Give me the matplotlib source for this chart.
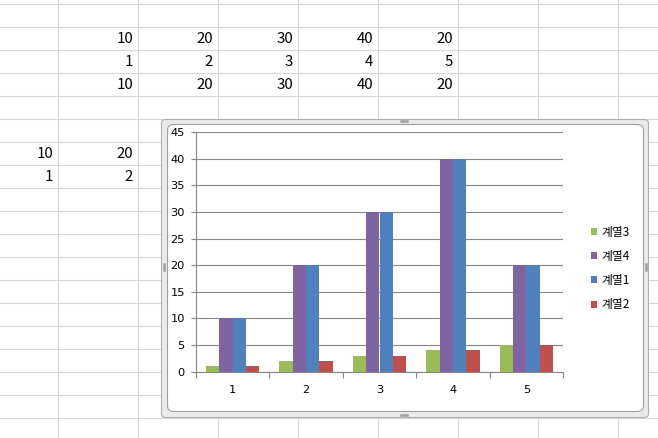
import matplotlib
matplotlib.use("Agg")
import matplotlib.pyplot as plt
from matplotlib.patches import FancyBboxPatch
import numpy as np

plt.rcParams['font.family'] = ['Noto Sans CJK KR', 'DejaVu Sans']

# chart data
categories = [1, 2, 3, 4, 5]
series_names = ["계열3", "계열4", "계열1", "계열2"]
series_3 = [1, 2, 3, 4, 5]
series_4 = [10, 20, 30, 40, 20]
series_1 = [10, 20, 30, 40, 20]
series_2 = [1, 2, 3, 4, 5]
series_colors = ["#9BBB59", "#8064A2", "#4F81BD", "#C0504D"]
y_ticks = [0, 5, 10, 15, 20, 25, 30, 35, 40, 45]

# worksheet cells (row index, first column index, values)
sheet_row1 = [10, 20, 30, 40, 20]
sheet_row2 = [1, 2, 3, 4, 5]
sheet_row3 = [10, 20, 30, 40, 20]
sheet_row6 = [10, 20]
sheet_row7 = [1, 2]

W, H = 658, 438
fig = plt.figure(figsize=(W / 100, H / 100), dpi=100)

# worksheet background, in pixel coordinates
bg = fig.add_axes([0, 0, 1, 1])
bg.set_xlim(0, W)
bg.set_ylim(H, 0)
bg.axis("off")

col_edges = [57 + 80 * i for i in range(8)]
row_edges = [3.5 + 23 * i for i in range(20)]
for x in col_edges:
    bg.axvline(x + 0.5, color="#d6d6d6", lw=0.8)
for y in row_edges:
    bg.axhline(y, color="#d6d6d6", lw=0.8)


def put_row(values, row, first_col):
    for i, v in enumerate(values):
        x = 57 + 80 * (first_col + i) - 4
        y = row_edges[row + 1] - 6.5
        bg.text(x, y, str(v), ha="right", va="baseline", fontsize=10.8, color="black")


put_row(sheet_row1, 1, 1)
put_row(sheet_row2, 2, 1)
put_row(sheet_row3, 3, 1)
put_row(sheet_row6, 6, 0)
put_row(sheet_row7, 7, 0)

# chart object frame
outer = FancyBboxPatch((161.5, 119.5), 487, 298, boxstyle="round,pad=0,rounding_size=4",
                       fc="#ebebeb", ec="#b0b0b0", lw=0.8, zorder=5)
inner = FancyBboxPatch((167.5, 124.5), 476, 287, boxstyle="round,pad=0,rounding_size=6",
                       fc="white", ec="#a0a0a0", lw=0.8, zorder=6)
bg.add_patch(outer)
bg.add_patch(inner)
dot = dict(ls="none", marker="s", ms=0.9, color="#a0a0a0", zorder=7)
bg.plot([401, 403, 405, 407], [121] * 4, **dot)
bg.plot([401, 403, 405, 407], [415] * 4, **dot)
bg.plot([164] * 4, [264, 266, 268, 270], **dot)
bg.plot([646] * 4, [264, 266, 268, 270], **dot)

# bar chart
ax = fig.add_axes([196 / W, 1 - 371.5 / H, (563 - 196) / W, (371.5 - 132.3) / H])
ax.set_facecolor("none")
x = np.arange(len(categories))
w = 1 / 5.5
all_series = [series_3, series_4, series_1, series_2]
for k, (vals, name, color) in enumerate(zip(all_series, series_names, series_colors)):
    ax.bar(x + (k - 1.5) * w, vals, w, color=color, label=name, zorder=3)

ax.set_xlim(-0.5, len(categories) - 0.5)
ax.set_ylim(0, 45)
ax.set_yticks(y_ticks)
ax.yaxis.grid(True, color="#868686", lw=0.8)
ax.set_axisbelow(True)
for s in ["top", "right"]:
    ax.spines[s].set_visible(False)
for s in ["left", "bottom"]:
    ax.spines[s].set_color("#868686")
    ax.spines[s].set_linewidth(0.8)

ax.set_xticks(np.arange(len(categories) + 1) - 0.5)
ax.set_xticklabels([])
ax.set_xticks(x, minor=True)
ax.set_xticklabels([str(c) for c in categories], minor=True)
ax.tick_params(axis="x", which="major", length=4, color="#868686", width=0.8)
ax.tick_params(axis="x", which="minor", length=0, pad=9.5)
ax.tick_params(axis="y", length=3.6, color="#868686", width=0.8, pad=4.5)
for lbl in ax.get_xticklabels(minor=True) + ax.get_yticklabels():
    lbl.set_fontfamily("DejaVu Sans")
    lbl.set_fontsize(8.2)

ax.legend(loc="center left", bbox_to_anchor=(591 / W, 1 - 268.5 / H),
          bbox_transform=fig.transFigure, frameon=False, borderpad=0,
          borderaxespad=0, handlelength=0.55, handleheight=0.55,
          handletextpad=0.35, labelspacing=0.95, fontsize=8.5)

fig.savefig("out.png", dpi=100)
